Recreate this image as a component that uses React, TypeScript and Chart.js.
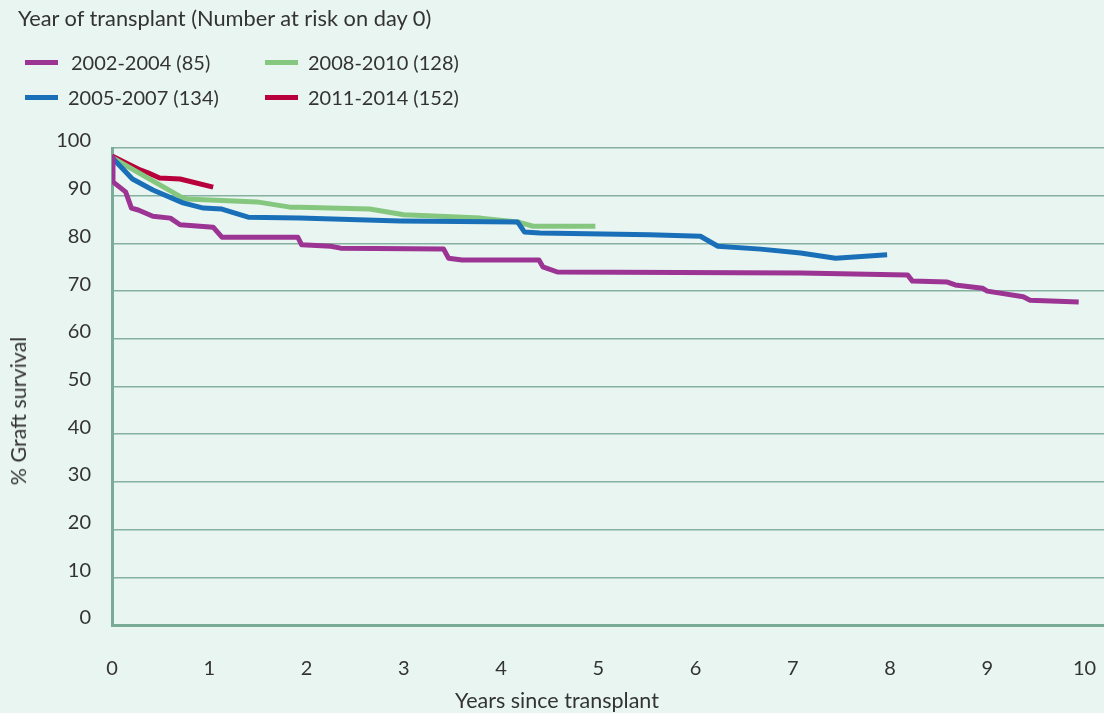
import React, { useEffect, useRef } from "react";
import { Chart, registerables } from "chart.js";

Chart.register(...registerables);

const seriesLabels = ["2002-2004 (85)", "2005-2007 (134)", "2008-2010 (128)", "2011-2014 (152)"];
const seriesColors = ["#9c3494", "#1a70b8", "#86c77f", "#b8003c"];

const years2002 = [0, 0.01, 0.14, 0.2, 0.27, 0.42, 0.6, 0.7, 1.04, 1.13, 1.91, 1.95, 2.25, 2.35, 3.41, 3.46, 3.6, 4.39, 4.43, 4.58, 7.08, 8.18, 8.23, 8.59, 8.67, 8.95, 9.0, 9.37, 9.44, 9.94];
const surv2002 = [98, 92.9, 90.8, 87.4, 87.0, 85.7, 85.3, 83.9, 83.4, 81.3, 81.3, 79.7, 79.4, 79.0, 78.8, 76.9, 76.5, 76.5, 75.1, 74.0, 73.8, 73.4, 72.1, 71.9, 71.3, 70.6, 70.0, 68.8, 68.1, 67.7];

const years2005 = [0, 0.21, 0.42, 0.73, 0.94, 1.13, 1.4, 1.93, 2.96, 4.17, 4.24, 4.4, 5.53, 6.05, 6.23, 6.67, 7.08, 7.44, 7.97];
const surv2005 = [98, 93.5, 91.2, 88.5, 87.4, 87.2, 85.5, 85.3, 84.7, 84.5, 82.4, 82.2, 81.8, 81.5, 79.4, 78.8, 78.0, 76.9, 77.6];

const years2008 = [0, 0.73, 0.77, 1.49, 1.83, 1.93, 2.65, 3.0, 3.79, 4.17, 4.33, 4.97];
const surv2008 = [98, 89.5, 89.3, 88.7, 87.6, 87.6, 87.2, 86.0, 85.3, 84.5, 83.6, 83.6];

const years2011 = [0, 0.29, 0.37, 0.49, 0.7, 1.04];
const surv2011 = [98.3, 95.4, 94.8, 93.7, 93.5, 91.8];

const yTicks = [0, 10, 20, 30, 40, 50, 60, 70, 80, 90, 100];
const xTicks = [0, 1, 2, 3, 4, 5, 6, 7, 8, 9, 10];

const FONT = "Lato, 'Open Sans', sans-serif";
const TEXT = "#333333";
const BG = "#e9f5f1";
const GRID = "#86b0a0";
const AXIS = "#7aab98";

function pts(xs: number[], ys: number[]) {
  return xs.map((x, i) => ({ x, y: ys[i] }));
}

export default function App() {
  const ref = useRef<HTMLCanvasElement | null>(null);

  useEffect(() => {
    document.body.style.margin = "0";
    if (!ref.current) return;
    const all = [
      pts(years2002, surv2002),
      pts(years2005, surv2005),
      pts(years2008, surv2008),
      pts(years2011, surv2011),
    ];
    const chart = new Chart(ref.current, {
      type: "line",
      data: {
        datasets: all.map((d, i) => ({
          label: seriesLabels[i],
          data: d,
          borderColor: seriesColors[i],
          backgroundColor: seriesColors[i],
          borderWidth: 5,
          pointRadius: 0,
          tension: 0,
          fill: false,
          borderJoinStyle: "round" as const,
          borderCapStyle: "butt" as const,
        })),
      },
      options: {
        animation: false,
        responsive: false,
        maintainAspectRatio: false,
        layout: { padding: { top: 148, left: 0, right: 0, bottom: 0 } },
        plugins: {
          legend: { display: false },
          tooltip: { enabled: false },
          title: { display: false },
        },
        scales: {
          x: {
            type: "linear",
            min: 0,
            max: 10.2,
            afterFit: (s: any) => {
              s.height = 88;
              s.paddingLeft = 0;
              s.paddingRight = 0;
            },
            afterBuildTicks: (s: any) => {
              s.ticks = xTicks.map((v) => ({ value: v }));
            },
            grid: { display: false, drawTicks: false },
            border: { display: true, color: AXIS, width: 3 },
            ticks: {
              padding: 32,
              color: TEXT,
              font: { family: FONT, size: 20 },
              maxRotation: 0,
              autoSkip: false,
            },
          },
          y: {
            type: "linear",
            min: 0,
            max: 100,
            afterFit: (s: any) => {
              s.width = 112;
              s.paddingTop = 0;
              s.paddingBottom = 0;
            },
            afterBuildTicks: (s: any) => {
              s.ticks = yTicks.map((v) => ({ value: v }));
            },
            grid: { color: GRID, lineWidth: 1.5, drawTicks: false },
            border: { display: true, color: AXIS, width: 3 },
            ticks: {
              padding: 21,
              labelOffset: -7,
              color: TEXT,
              font: { family: FONT, size: 20 },
              autoSkip: false,
            },
          },
        },
      },
    });
    return () => chart.destroy();
  }, []);

  const legendText: React.CSSProperties = {
    position: "absolute",
    fontFamily: FONT,
    fontSize: 20,
    color: TEXT,
    lineHeight: "24px",
    whiteSpace: "nowrap",
  };
  const swatch = (left: number, top: number, color: string): React.CSSProperties => ({
    position: "absolute",
    left,
    top,
    width: 33,
    height: 5,
    background: color,
  });

  return (
    <div
      style={{
        position: "fixed",
        left: 0,
        top: 0,
        width: 1104,
        height: 713,
        background: BG,
        overflow: "hidden",
      }}
    >
      <canvas ref={ref} width={1104} height={713} style={{ position: "absolute", left: 0, top: 0, width: 1104, height: 713 }} />
      <div style={{ ...legendText, left: 18, top: 6, fontSize: 21.8 }}>Year of transplant (Number at risk on day 0)</div>
      <div style={swatch(25, 60, seriesColors[0])} />
      <div style={{ ...legendText, left: 71, top: 50 }}>{seriesLabels[0]}</div>
      <div style={swatch(25, 95, seriesColors[1])} />
      <div style={{ ...legendText, left: 68, top: 85 }}>{seriesLabels[1]}</div>
      <div style={swatch(265, 60, seriesColors[2])} />
      <div style={{ ...legendText, left: 308, top: 50 }}>{seriesLabels[2]}</div>
      <div style={swatch(265, 95, seriesColors[3])} />
      <div style={{ ...legendText, left: 308, top: 85 }}>{seriesLabels[3]}</div>
      <div
        style={{
          ...legendText,
          fontSize: 21.5,
          left: 18,
          top: 411,
          transform: "translate(-50%, -50%) rotate(-90deg)",
        }}
      >
        % Graft survival
      </div>
      <div
        style={{
          ...legendText,
          fontSize: 21.5,
          left: 557,
          top: 700,
          transform: "translate(-50%, -50%)",
        }}
      >
        Years since transplant
      </div>
    </div>
  );
}
